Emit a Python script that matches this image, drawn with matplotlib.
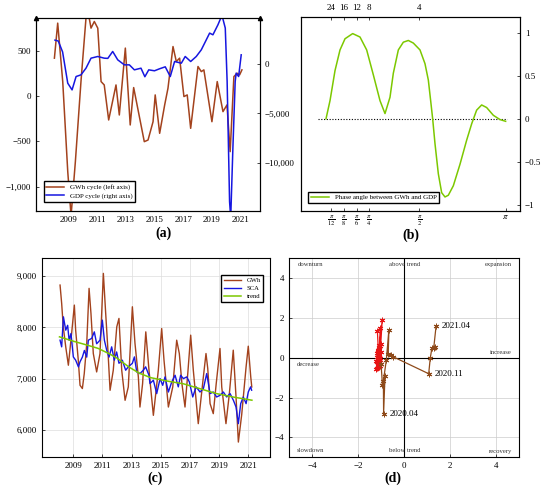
import matplotlib.pyplot as plt
import numpy as np

plt.rcParams['font.family'] = 'Liberation Serif'
plt.rcParams['mathtext.fontset'] = 'stix'

# ---------------- data ----------------
# (a) cycles
gwh_cyc_years = [2008.03, 2008.26, 2008.61, 2008.96, 2009.19, 2009.49, 2009.88, 2010.23, 2010.35,
                 2010.58, 2010.81, 2011.05, 2011.28, 2011.5, 2011.81, 2012.32, 2012.55, 2012.97,
                 2013.31, 2013.55, 2014.29, 2014.55, 2014.9, 2015.05, 2015.24, 2015.36, 2015.71,
                 2015.94, 2016.29, 2016.52, 2016.75, 2017.05, 2017.28, 2017.52, 2018.03, 2018.26,
                 2018.44, 2019.0, 2019.37, 2019.77, 2020.05, 2020.27, 2020.53, 2020.76, 2020.93, 2021.09]
gwh_cyc = [416, 802, 158, -835, -1320, -725, 158, 858, 950, 747, 820, 747, 158, 121, -265, 121,
           -210, 527, -320, 92, -504, -486, -284, 11, -246, -412, -99, 85, 544, 379, 416, -7, 11,
           -357, 324, 268, 287, -284, 158, -173, -99, -614, 213, 250, 232, 287]
gdp_cyc_years = [2008.07, 2008.3, 2008.6, 2008.96, 2009.26, 2009.54, 2009.88, 2010.23, 2010.58,
                 2011.05, 2011.5, 2011.75, 2012.09, 2012.44, 2012.9, 2013.25, 2013.6, 2014.06,
                 2014.33, 2014.6, 2015.0, 2015.35, 2015.75, 2016.1, 2016.4, 2016.87, 2017.14,
                 2017.52, 2017.91, 2018.26, 2018.55, 2018.84, 2019.07, 2019.42, 2019.7, 2019.93,
                 2020.06, 2020.23, 2020.31, 2020.46, 2020.62, 2020.69, 2020.86, 2021.04]
gdp_cyc = [2390, 2300, 1200, -1953, -2626, -1279, -1111, -438, 572, 741, 572, 550, 1246, 404,
           -101, -101, -606, -438, -1300, -606, -700, -500, -300, -1279, 236, 67, 741, 236, 741,
           1414, 2253, 3098, 2929, 3939, 4900, 3606, -1788, -13909, -15500, -8515, -1788, -939,
           -1279, 909]

# (b) phase angle vs frequency (radians)
freq = [0.2115, 0.2517, 0.3021, 0.3524, 0.4030, 0.4823, 0.5944, 0.7359, 0.8530, 0.9570,
        1.0351, 1.1131, 1.1651, 1.2431, 1.3211, 1.3991, 1.4771, 1.5829, 1.6739, 1.7346,
        1.7770, 1.8134, 1.8559, 1.9165, 1.9772, 2.0378, 2.0985, 2.1894, 2.3107, 2.4320,
        2.5230, 2.6140, 2.7050, 2.7959, 2.9172, 3.0385, 3.1416]
phase = [0, 0.21, 0.56, 0.80, 0.93, 0.99, 0.95, 0.80, 0.51, 0.21, 0.06, 0.25, 0.53, 0.80, 0.89,
         0.91, 0.88, 0.80, 0.64, 0.45, 0.21, 0, -0.29, -0.64, -0.86, -0.91, -0.89, -0.78, -0.53,
         -0.25, -0.06, 0.10, 0.16, 0.13, 0.04, -0.01, -0.03]
period_labels = ['24', '16', '12', '8', '4']
freq_ticks = [np.pi / 12, np.pi / 8, np.pi / 6, np.pi / 4, np.pi / 2, np.pi]
freq_ticklabels = [r'$\frac{\pi}{12}$', r'$\frac{\pi}{8}$', r'$\frac{\pi}{6}$',
                   r'$\frac{\pi}{4}$', r'$\frac{\pi}{2}$', r'$\pi$']

# (c) GWh, seasonally adjusted and trend
gwh_years = [2008.09, 2008.2, 2008.31, 2008.48, 2008.66, 2008.89, 2009.07, 2009.16, 2009.34,
             2009.46, 2009.62, 2009.75, 2009.92, 2010.08, 2010.21, 2010.37, 2010.6, 2010.83,
             2011.06, 2011.22, 2011.36, 2011.52, 2011.74, 2011.98, 2012.13, 2012.32, 2012.55,
             2012.77, 2013.05, 2013.23, 2013.46, 2013.57, 2013.75, 2013.97, 2014.19, 2014.49,
             2014.83, 2015.06, 2015.22, 2015.52, 2015.82, 2016.09, 2016.27, 2016.45, 2016.66,
             2016.85, 2017.05, 2017.23, 2017.57, 2017.92, 2018.1, 2018.22, 2018.38, 2018.6,
             2018.8, 2019.06, 2019.18, 2019.47, 2019.7, 2019.97, 2020.16, 2020.32, 2020.55,
             2020.85, 2021.0, 2021.17, 2021.24]
gwh = [8824, 8467, 8010, 7619, 7262, 7900, 8434, 7945, 7359, 6871, 6807, 7100, 7685, 8760, 8271,
       7490, 7131, 7490, 9052, 8271, 7619, 6773, 7164, 8010, 8174, 7164, 6578, 6838, 8401, 7685,
       7034, 6447, 6900, 7912, 7164, 6285, 7164, 7977, 7359, 6447, 6838, 7750, 7490, 6900, 6447,
       7100, 7848, 7164, 6123, 7034, 7490, 7200, 6514, 6318, 6900, 7588, 6838, 6123, 6700, 7555,
       6643, 5764, 6300, 7229, 7633, 7034, 6838]
sca_years = [2008.09, 2008.20, 2008.32, 2008.48, 2008.61, 2008.71, 2008.84, 2009.00, 2009.16,
             2009.35, 2009.46, 2009.62, 2009.76, 2009.92, 2010.03, 2010.26, 2010.44, 2010.60,
             2010.83, 2010.99, 2011.13, 2011.29, 2011.45, 2011.63, 2011.81, 2011.97, 2012.13,
             2012.36, 2012.59, 2012.77, 2013.05, 2013.19, 2013.35, 2013.57, 2013.80, 2013.96,
             2014.19, 2014.26, 2014.49, 2014.72, 2014.95, 2015.13, 2015.29, 2015.52, 2015.75,
             2015.98, 2016.20, 2016.36, 2016.55, 2016.78, 2016.96, 2017.19, 2017.42, 2017.69,
             2017.92, 2018.15, 2018.38, 2018.60, 2018.83, 2019.06, 2019.29, 2019.52, 2019.75,
             2019.98, 2020.16, 2020.32, 2020.48, 2020.66, 2020.85, 2021.00, 2021.16, 2021.23]
sca = [7750, 7620, 8205, 7945, 8040, 7750, 7880, 7424, 7360, 7229, 7330, 7420, 7550, 7420, 7750,
       7785, 7912, 7680, 7750, 8141, 7750, 7555, 7420, 7620, 7360, 7520, 7300, 7360, 7164, 7230,
       7300, 7424, 7130, 7099, 7164, 7230, 7065,
       6904, 6970, 6709, 7001, 6870, 7034, 6740, 6935, 7066, 6840, 7066, 7001, 7034, 6935, 6643,
       6840, 6740, 6805, 7099, 6709, 6740, 6643, 6675, 6740, 6643, 6709, 6578, 6447, 6123, 6513,
       6643, 6513, 6740, 6840, 6775]
trend_years = [2008.05, 2009.0, 2010.0, 2010.7, 2011.5, 2012.0, 2012.8, 2013.5, 2014.3, 2015.5,
               2016.55, 2017.5, 2018.8, 2020.0, 2021.25]
trend = [7815, 7730, 7650, 7590, 7480, 7400, 7230, 7110, 7020, 6950, 6900, 6820, 6710, 6640, 6580]

# (d) cycle diagram: 2008-2019 (red) and 2020.01-2021.04 (brown)
early_x = [-1.12, -1.18, -1.05, -1.20, -1.10, -1.15, -1.02, -1.22, -1.08, -1.16, -1.12, -1.04,
           -1.19, -1.10, -1.06, -1.14, -1.21, -1.09, -1.05, -1.17, -1.13, -1.06, -0.96, -1.11,
           -1.15, -1.08, -1.19, -1.12, -1.02, -1.14, -1.10]
early_y = [0.45, -0.20, 0.60, 0.05, -0.45, 0.30, 0.70, -0.55, 0.15, -0.30, 0.50, -0.10, 0.25,
           0.65, -0.40, 0.35, -0.15, 0.10, 1.50, 1.33, 0.40, 0.00, 1.92, 0.20, -0.35, 0.55,
           -0.50, 0.05, 0.30, -0.25, -0.05]
late_x = [-1.01, -0.95, -0.84, -0.90, -0.91, -0.78, -0.67, -0.70, -0.58, -0.50, 1.06, 1.13,
          1.20, 1.32, 1.28, 1.38]
late_y = [-0.33, -1.35, -0.92, -2.80, -1.17, -0.10, 1.42, 0.17, 0.12, 0.06, -0.80, 0.00, 0.48,
          0.55, 0.50, 1.58]
late_labels = {3: '2020.04', 10: '2020.11', 15: '2021.04'}

BROWN = '#a3421d'
BLUE = '#1616e0'
GREEN = '#7cc800'


def thousands(v, pos=None):
    return f'{v:,.0f}'.replace('-', '\u2212')


def plain(v, pos=None):
    return f'{v:g}'.replace('-', '\u2212')


fig = plt.figure(figsize=(5.5, 4.88), dpi=100)
tick_kw = dict(labelsize=6.5, direction='in', length=2, width=0.5)

# ---------------- (a) ----------------
ax_a = fig.add_axes([0.0655, 0.568, 0.407, 0.395])
ax_a2 = ax_a.twinx()
l1, = ax_a.plot(gwh_cyc_years, gwh_cyc, color=BROWN, lw=1.1, label='GWh cycle (left axis)')
l2, = ax_a2.plot(gdp_cyc_years, gdp_cyc, color=BLUE, lw=1.1, label='GDP cycle (right axis)')
ax_a.set_xlim(2006.75, 2022.34)
ax_a.set_ylim(-1266, 858)
ax_a2.set_ylim(-14818, 4616)
ax_a.set_xticks(range(2009, 2022, 2))
ax_a.set_yticks([-1000, -500, 0, 500])
ax_a2.set_yticks([-10000, -5000, 0])
ax_a.yaxis.set_major_formatter(thousands)
ax_a2.yaxis.set_major_formatter(thousands)
ax_a.tick_params(**tick_kw)
ax_a2.tick_params(**tick_kw)
ax_a.tick_params(axis='x', length=0)
ax_a.plot([0, 1], [1, 1], ls='none', marker='^', ms=3, color='k',
          transform=ax_a.transAxes, clip_on=False)
ax_a2.legend(handles=[l1, l2], loc='lower left', bbox_to_anchor=(0.018, 0.03), fontsize=5,
             fancybox=False, edgecolor='black', framealpha=1, handlelength=2.6,
             borderpad=0.4, labelspacing=0.3)
fig.text(0.297, 0.522, '(a)', fontsize=10, fontweight='bold', ha='center', va='center')

# ---------------- (b) ----------------
knot_w = [-1.0, np.pi / 12, np.pi / 8, np.pi / 6, np.pi / 4, np.pi / 2, np.pi, 5.0]
knot_p = [153 - (np.pi / 12 + 1) * 298, 153, 192, 230, 267, 418, 677, 677 + (5 - np.pi) * 164.9]


def fwd(w):
    return np.interp(w, knot_w, knot_p)


def inv(p):
    return np.interp(p, knot_p, knot_w)


ax_b = fig.add_axes([0.5467, 0.5682, 0.3987, 0.3975])
ax_b.set_xscale('function', functions=(fwd, inv))
ax_b.plot([0.134, 3.16], [0, 0], color='black', lw=0.8, ls=(0, (1, 1.5)))
ax_b.plot(freq, phase, color=GREEN, lw=1.1, label='Phase angle between GWh and GDP')
ax_b.set_xlim(-0.0436, 3.4024)
ax_b.set_ylim(-1.07, 1.186)
ax_b.yaxis.tick_right()
ax_b.set_yticks([-1, -0.5, 0, 0.5, 1])
ax_b.yaxis.set_major_formatter(plain)
ax_b.set_xticks(freq_ticks)
ax_b.set_xticklabels(freq_ticklabels)
ax_b.tick_params(**tick_kw)
ax_b.tick_params(axis='x', labelsize=6.5, pad=2)
ax_bt = ax_b.twiny()
ax_bt.set_xscale('function', functions=(fwd, inv))
ax_bt.set_xlim(ax_b.get_xlim())
ax_bt.set_xticks(freq_ticks[:5])
ax_bt.set_xticklabels(period_labels)
ax_bt.tick_params(**tick_kw)
ax_b.legend(loc='lower left', bbox_to_anchor=(0.0196, 0.0206), fontsize=5, fancybox=False,
            edgecolor='black', framealpha=1, handlelength=2.6, borderpad=0.4)
fig.text(0.747, 0.517, '(b)', fontsize=10, fontweight='bold', ha='center', va='center')

# ---------------- (c) ----------------
ax_c = fig.add_axes([0.0758, 0.0629, 0.4151, 0.4078])
ax_c.grid(True, color='#dddddd', lw=0.5)
ax_c.set_axisbelow(True)
ax_c.plot(gwh_years, gwh, color=BROWN, lw=1.0, label='GWh')
ax_c.plot(sca_years, sca, color=BLUE, lw=1.0, label='SCA')
ax_c.plot(trend_years, trend, color=GREEN, lw=1.1, label='trend')
ax_c.set_xlim(2006.83, 2022.49)
ax_c.set_ylim(5467, 9346)
ax_c.set_xticks(range(2009, 2022, 2))
ax_c.set_yticks([6000, 7000, 8000, 9000])
ax_c.yaxis.set_major_formatter(thousands)
ax_c.tick_params(**tick_kw)
ax_c.legend(loc='upper right', bbox_to_anchor=(0.986, 0.933), fontsize=4.8, fancybox=False,
            edgecolor='black', framealpha=1, handlelength=2.6, borderpad=0.4,
            labelspacing=0.35, markerfirst=True)
fig.text(0.282, 0.02, '(c)', fontsize=10, fontweight='bold', ha='center', va='center')

# ---------------- (d) ----------------
ax_d = fig.add_axes([0.526, 0.0629, 0.4182, 0.4078])
ax_d.set_xlim(-5, 5)
ax_d.set_ylim(-5, 5)
ax_d.set_xticks([-4, -2, 0, 2, 4])
ax_d.set_yticks([-4, -2, 0, 2, 4])
ax_d.grid(True, color='#cccccc', lw=0.5)
ax_d.set_axisbelow(True)
ax_d.axhline(0, color='black', lw=0.8)
ax_d.axvline(0, color='black', lw=0.8)
ax_d.xaxis.set_major_formatter(plain)
ax_d.yaxis.set_major_formatter(plain)
ax_d.tick_params(**tick_kw)
star = (6, 2, 0)
ax_d.plot(early_x + late_x[:1], early_y + late_y[:1], color='#e81414', lw=0.9,
          marker=star, ms=4, mew=0.7)
ax_d.plot(late_x, late_y, color='#8e4a1a', lw=0.9, marker=star, ms=4, mew=0.7)
for i, txt in late_labels.items():
    ax_d.annotate(txt, (late_x[i], late_y[i]), xytext=(4, 0), textcoords='offset points',
                  fontsize=6.5, va='center', ha='left')
corner = dict(fontsize=4.8, ha='center', va='center', color='#333333')
ax_d.text(-4.1, 4.67, 'downturn', **corner)
ax_d.text(0.0, 4.67, 'above trend', **corner)
ax_d.text(4.1, 4.7, 'expansion', **corner)
ax_d.text(-4.2, -0.33, 'decrease', **corner)
ax_d.text(4.2, 0.28, 'increase', **corner)
ax_d.text(-4.1, -4.67, 'slowdown', **corner)
ax_d.text(0.0, -4.67, 'below trend', **corner)
ax_d.text(4.2, -4.7, 'recovery', **corner)
fig.text(0.714, 0.02, '(d)', fontsize=10, fontweight='bold', ha='center', va='center')

fig.savefig('out.png', dpi=100)
